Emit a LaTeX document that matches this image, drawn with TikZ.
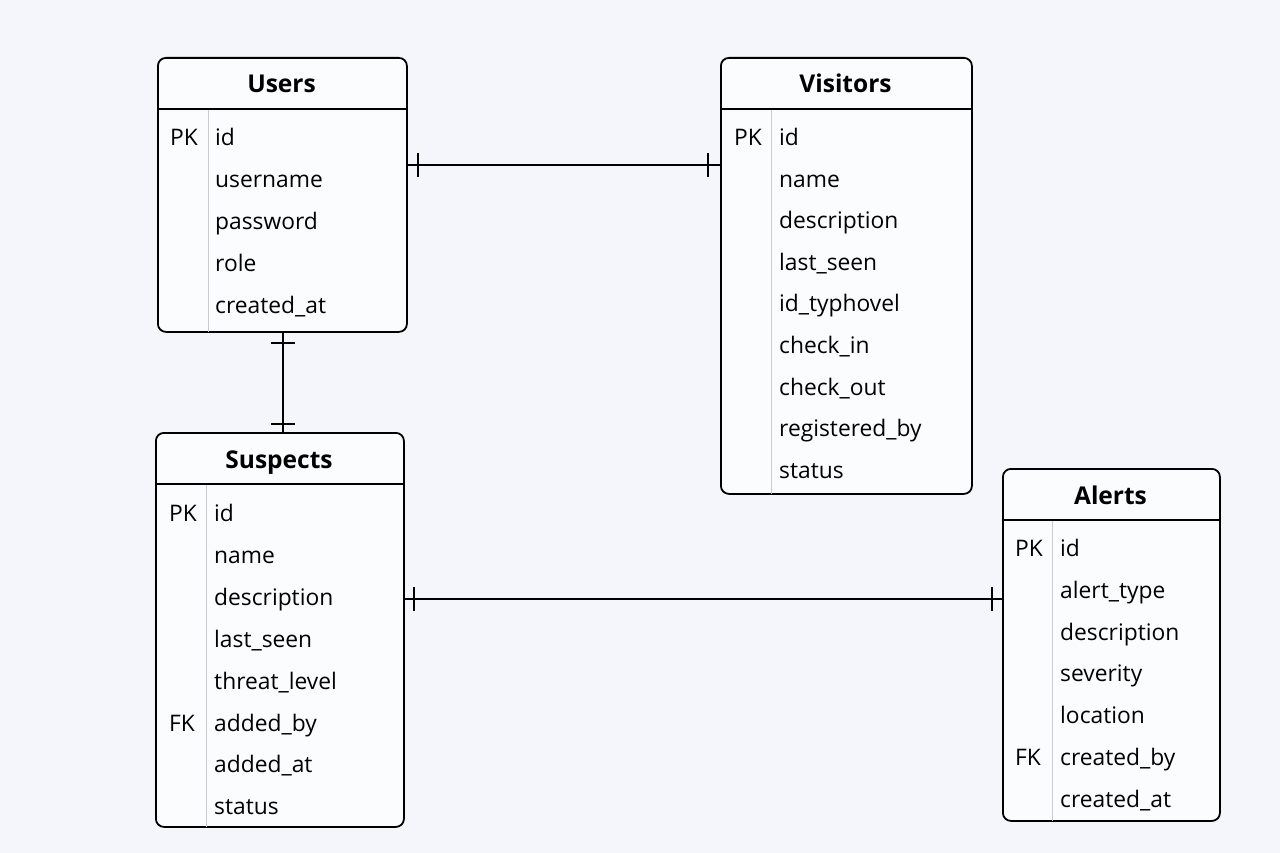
\documentclass[tikz,border=0pt]{standalone}
\usepackage{fontspec}
\setmainfont{Open Sans}
\definecolor{bg}{HTML}{F4F6FB}
\definecolor{boxfill}{HTML}{FBFCFE}
\definecolor{divc}{HTML}{C8CACE}
\tikzset{
  tablebox/.style={draw=black, line width=1.8pt, fill=boxfill, rounded corners=8pt, inner sep=0pt, anchor=north west},
  hline/.style={draw=black, line width=1.8pt},
  divline/.style={draw=divc, line width=0.9pt},
  title/.style={font=\fontsize{24.5}{28}\selectfont\bfseries, inner sep=0pt, anchor=base},
  field/.style={font=\fontsize{22.8}{26}\selectfont, inner sep=0pt, anchor=base west},
  keyf/.style={field},
  rel/.style={draw=black, line width=2pt},
}
\begin{document}
\begin{tikzpicture}[x=1pt,y=-1pt]
\fill[bg] (0,0) rectangle (1280,853);
\useasboundingbox (0,0) rectangle (1280,853);

% ---------- Users ----------
\node[tablebox, minimum width=249pt, minimum height=274pt] (users) at (157,57) {};
\draw[hline] ([yshift=-52pt]users.north west) -- ([yshift=-52pt]users.north east);
\draw[divline] ([xshift=51pt,yshift=-53pt]users.north west) -- ([xshift=51pt,yshift=1pt]users.south west);
\node[title] (usersT) at (281.5,93) {Users};
\node[keyf] (usersPK) at (170,145.5) {PK};
\foreach \t [count=\i] in {id,username,password,role,created\_at}
  \node[field] (users\i) at (215,{145.5+41.9*(\i-1)}) {\t};

% ---------- Visitors ----------
\node[tablebox, minimum width=251pt, minimum height=436pt] (visitors) at (720,57) {};
\draw[hline] ([yshift=-52pt]visitors.north west) -- ([yshift=-52pt]visitors.north east);
\draw[divline] ([xshift=51pt,yshift=-53pt]visitors.north west) -- ([xshift=51pt,yshift=1pt]visitors.south west);
\node[title] (visitorsT) at (845.5,93) {Visitors};
\node[keyf] (visitorsPK) at (734,145.5) {PK};
\foreach \t [count=\i] in {id,name,description,last\_seen,id\_typhovel,check\_in,check\_out,registered\_by,status}
  \node[field] (visitors\i) at (779,{145.5+41.6*(\i-1)}) {\t};

% ---------- Suspects ----------
\node[tablebox, minimum width=248pt, minimum height=394pt] (suspects) at (155,432) {};
\draw[hline] ([yshift=-52pt]suspects.north west) -- ([yshift=-52pt]suspects.north east);
\draw[divline] ([xshift=51pt,yshift=-53pt]suspects.north west) -- ([xshift=51pt,yshift=1pt]suspects.south west);
\node[title] (suspectsT) at (279,468) {Suspects};
\node[keyf] (suspectsPK) at (169,521.5) {PK};
\node[keyf] (suspectsFK) at (169,731) {FK};
\foreach \t [count=\i] in {id,name,description,last\_seen,threat\_level,added\_by,added\_at,status}
  \node[field] (suspects\i) at (214,{521.5+41.9*(\i-1)}) {\t};

% ---------- Alerts ----------
\node[tablebox, minimum width=217pt, minimum height=352pt] (alerts) at (1002,468) {};
\draw[hline] ([yshift=-52pt]alerts.north west) -- ([yshift=-52pt]alerts.north east);
\draw[divline] ([xshift=50pt,yshift=-53pt]alerts.north west) -- ([xshift=50pt,yshift=1pt]alerts.south west);
\node[title] (alertsT) at (1110.5,504) {Alerts};
\node[keyf] (alertsPK) at (1015,556.5) {PK};
\node[keyf] (alertsFK) at (1015,765.5) {FK};
\foreach \t [count=\i] in {id,alert\_type,description,severity,location,created\_by,created\_at}
  \node[field] (alerts\i) at (1060,{556.5+41.8*(\i-1)}) {\t};

% ---------- Relationships ----------
\coordinate (uvA) at (users.east |- 0,165);
\coordinate (uvB) at (visitors.west |- 0,165);
\draw[rel] (uvA) -- (uvB);
\draw[rel] ([xshift=10pt]uvA) ++(0,-12) -- ++(0,24);
\draw[rel] ([xshift=-12pt]uvB) ++(0,-12) -- ++(0,24);

\coordinate (usA) at (users.south -| 283,0);
\coordinate (usB) at (suspects.north -| 283,0);
\draw[rel] (usA) -- (usB);
\draw[rel] ([yshift=-10pt]usA) ++(-12,0) -- ++(24,0);
\draw[rel] ([yshift=8pt]usB) ++(-12,0) -- ++(24,0);

\coordinate (saA) at (suspects.east |- 0,599);
\coordinate (saB) at (alerts.west |- 0,599);
\draw[rel] (saA) -- (saB);
\draw[rel] ([xshift=9pt]saA) ++(0,-12) -- ++(0,24);
\draw[rel] ([xshift=-10pt]saB) ++(0,-12) -- ++(0,24);
\end{tikzpicture}
\end{document}
